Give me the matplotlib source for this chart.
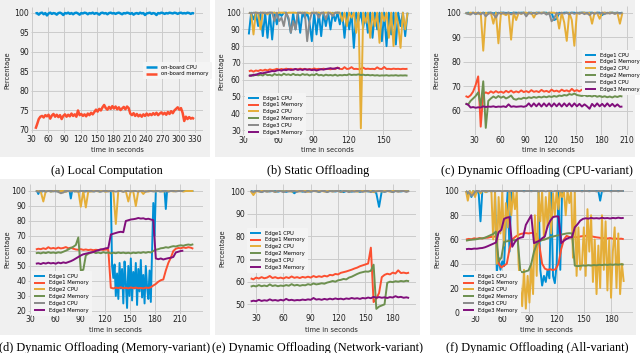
import numpy as np
import matplotlib.pyplot as plt
from matplotlib.patches import Rectangle

plt.style.use('fivethirtyeight')
plt.rcParams['font.family'] = ['DejaVu Sans']

COLORS = ['#008fd5', '#fc4f30', '#e5ae38', '#6d904f', '#8b8b8b', '#810f7c']
EDGE_LABELS = ['Edge1 CPU', 'Edge1 Memory', 'Edge2 CPU', 'Edge2 Memory', 'Edge3 CPU', 'Edge3 Memory']

# ---------------- (a) Local Computation : t = 37, 40, ... ----------------
a_t0, a_dt = 37, 3
a_cpu = [99.8, 99.9, 99.5, 99.9, 100.0, 99.6, 99.9, 99.3, 99.8, 100.0, 99.7, 99.9, 99.8, 99.5, 99.9, 100.0,
         99.8, 99.4, 99.9, 99.8, 100.0, 99.7, 99.9, 99.6, 99.9, 100.0, 99.8, 99.5, 99.9, 99.8, 100.0, 99.9,
         99.6, 99.9, 99.8, 100.0, 99.7, 99.9, 99.8, 99.5, 99.9, 100.0, 99.8, 99.9, 99.6, 99.9, 100.0, 99.8,
         99.9, 99.7, 99.9, 100.0, 99.8, 99.6, 99.9, 99.8, 100.0, 99.9, 99.7, 99.9, 99.5, 99.8, 99.9, 99.7,
         100.0, 99.8, 99.9, 99.4, 99.8, 99.9, 100.0, 99.7, 99.9, 99.8, 99.4, 99.9, 99.8, 100.0, 99.9, 99.7,
         99.9, 99.8, 100.0, 99.9, 99.8, 100.0, 99.9, 99.7, 99.9, 100.0, 99.8, 99.9, 99.8, 100.0, 99.9, 99.7,
         99.9, 99.8]
a_mem = [70.3, 71.5, 72.8, 73.4, 73.6, 73.2, 73.8, 73.5, 73.9, 72.9, 73.7, 74.1, 73.4, 73.9, 73.3, 73.8,
         72.8, 73.6, 74.0, 73.4, 73.9, 73.5, 74.2, 73.6, 74.0, 73.4, 75.0, 73.8, 74.1, 73.6, 74.0, 73.5,
         74.2, 73.8, 74.4, 74.0, 74.6, 75.2, 74.7, 75.4, 75.0, 75.8, 76.4, 75.6, 75.2, 75.9, 75.4, 76.1,
         75.5, 76.0, 75.3, 75.8, 75.1, 75.5, 75.9, 75.3, 76.0, 75.6, 74.2, 73.8, 74.3, 73.6, 74.1, 73.5,
         73.9, 73.4, 74.0, 73.6, 74.2, 73.7, 74.1, 73.8, 74.3, 73.9, 74.4, 73.8, 74.2, 74.5, 74.0, 74.4,
         73.9, 74.6, 74.1, 74.8, 74.3, 75.0, 75.4, 75.8, 75.2, 75.6, 74.4, 72.3, 73.4, 72.8, 73.3, 72.9,
         73.1, 72.8]

# ---------------- (b) Static Offloading : t = 35, 37, ... ----------------
b_t0, b_dt = 35, 2
b_e1_cpu = [87, 100, 96, 100, 92, 100, 86, 100, 85, 100, 84, 100, 93, 100, 98, 100, 100, 96, 88, 100,
            90, 100, 88, 100, 97, 100, 94, 83, 100, 87, 100, 86, 100, 92, 100, 90, 100, 95, 100, 93,
            100, 85, 100, 90, 100, 79, 100, 95, 100, 91, 100, 88, 100, 85, 100, 90, 100, 83, 100, 80,
            100, 87, 100, 81, 100, 92, 100, 86, 100]
b_e1_mem = [65.0, 65.5, 64.8, 65.5, 65.2, 65.8, 65.4, 66.0, 65.5, 66.2, 65.8, 66.0, 66.5, 66.0, 66.4, 66.0,
            66.6, 66.2, 66.5, 66.0, 66.4, 66.1, 66.6, 66.2, 66.5, 66.0, 66.4, 66.2, 66.7, 66.3, 66.5, 66.2,
            66.6, 66.3, 66.5, 66.2, 66.6, 66.3, 67.3, 66.5, 66.3, 67.5, 66.4, 66.6, 67.5, 66.4, 66.5, 66.3,
            66.5, 67.2, 66.4, 66.6, 66.4, 66.5, 66.3, 67.4, 66.5, 66.4, 67.6, 66.4, 66.5, 66.3, 66.6, 66.4,
            66.5, 66.3, 66.5, 66.4, 66.5]
b_e2_cpu = [100, 99.5, 87, 100, 100, 90, 100, 100, 99, 100, 100, 100, 99.5, 100, 100, 100, 99.5, 100, 100,
            100, 100, 99.6, 100, 100, 100, 100, 99.5, 100, 100, 100, 100, 99.6, 100, 100, 100, 100, 99.5,
            100, 100, 100, 95, 100, 92, 100, 97, 100, 88, 100, 31, 100, 94, 100, 85, 100, 92, 100, 82,
            100, 95, 100, 85, 100, 80, 100, 93, 79, 100, 90, 100]
b_e2_mem = [62.3, 62.8, 62.4, 63.2, 62.6, 63.0, 62.5, 63.5, 62.7, 62.9, 62.4, 63.4, 62.8, 63.1, 62.6, 63.6,
            62.9, 63.2, 62.7, 63.5, 62.8, 63.0, 62.6, 63.4, 62.9, 63.2, 62.5, 63.1, 62.7, 63.5, 62.6, 62.9,
            62.4, 63.0, 62.6, 62.8, 62.5, 63.0, 62.4, 62.8, 62.6, 62.9, 62.7, 63.3, 62.8, 63.0, 62.9, 63.2,
            62.8, 63.0, 62.7, 62.9, 62.6, 62.8, 62.5, 62.7, 62.4, 62.6, 62.5, 62.7, 62.4, 62.6, 62.5, 62.7,
            62.4, 62.6, 62.5, 62.6, 62.4]
b_e3_cpu = [100, 99.5, 100, 100, 99.6, 100, 100, 99.5, 100, 100, 100, 95, 100, 95, 97, 92, 100, 97, 88, 95,
            90, 100, 100, 99.5, 100, 83, 95, 100, 99.5, 100, 97, 100, 100, 96, 100, 99.5, 98, 100, 100, 100]
b_e3_mem = [62.5, 62.3, 63.0, 62.8, 63.5, 64.0, 63.8, 64.3, 64.5, 64.8, 65.2, 65.0, 65.5, 65.8, 65.4, 66.0,
            65.7, 66.2, 65.8, 66.0, 66.4, 65.9, 66.2, 65.8, 66.3, 66.0, 66.1, 65.7, 66.0, 65.5, 65.9, 66.3,
            66.0, 66.4, 66.6, 66.9, 66.5, 66.8, 67.0, 66.7]

# ---------------- (c) Dynamic Offloading (CPU-variant) : t = 19, 22, ... ----------------
c_t0, c_dt = 19, 3
c_e1_cpu = [99.6, 100, 99.8, 100, 99.5, 100, 99.7, 100, 99.8, 100, 100, 99.7, 100, 99.8, 100, 100, 99.9,
            100, 99.8, 100, 100, 99.9, 100, 100, 99.7, 100, 100, 99.8, 100, 100, 99.9, 100, 100, 99.6,
            100, 97.0, 97.5, 100, 99.8, 100, 100, 99.9, 100, 100, 99.8, 100, 100, 100, 99.9, 100, 100,
            99.8, 100, 100, 99.0, 100, 99.8, 100, 100, 99.9, 100, 99.8, 100]
c_e1_mem = [66.0, 65.5, 66.3, 67.8, 70.5, 74.0, 53.5, 66.8, 67.5, 67.0, 67.9, 67.3, 68.0, 67.4, 67.8, 67.3,
            68.1, 67.5, 68.2, 67.4, 67.9, 67.5, 68.3, 67.6, 68.0, 67.5, 68.4, 67.7, 68.0, 67.6, 68.5, 67.8,
            68.1, 67.6, 68.6, 67.9, 68.2, 67.7, 68.6, 68.0, 68.3, 67.8, 68.9, 68.0, 68.4, 67.9, 68.6, 68.0,
            68.3, 67.8, 68.7, 68.0, 68.2, 67.9, 68.6, 68.0, 68.3, 67.9, 68.5, 68.0, 68.2, 68.0, 68.1]
c_e2_cpu = [100, 99.5, 100, 99.8, 100, 99.5, 100, 84.5, 100, 99.5, 100, 95.5, 100, 87.5, 100, 99.5, 99.0,
            100, 89.0, 100, 97.0, 100, 99.5, 100, 100, 99.6, 100, 98.0, 100, 99.7, 100, 100, 99.5, 100,
            100, 100, 99.5, 93.5, 100, 96.0, 88.5, 100, 97.0, 86.5, 100, 99.6, 100, 100, 99.5, 100, 95.5,
            100, 99.8, 97.5, 100, 100, 99.7, 100, 100, 99.6, 100, 95.5, 100]
c_e2_mem = [63.0, 62.5, 64.0, 65.0, 66.0, 67.5, 62.0, 72.0, 53.0, 64.0, 65.0, 65.8, 65.2, 66.0, 65.3, 65.8,
            65.0, 65.5, 66.2, 64.8, 64.5, 65.0, 64.8, 65.3, 65.0, 65.5, 65.2, 65.6, 65.3, 65.7, 65.4, 65.8,
            65.5, 65.9, 65.6, 66.0, 65.7, 66.2, 66.0, 66.4, 66.2, 66.8, 66.5, 67.0, 66.4, 66.2, 66.0, 66.4,
            65.9, 66.1, 65.8, 66.2, 65.7, 66.0, 65.6, 65.9, 65.5, 65.8, 65.4, 65.9, 65.6, 66.0, 65.8]
c_e3_cpu = [100, 99.5, 99.2, 100, 99.4, 100, 99.3, 100, 98.5, 99.6, 100, 99.4, 98.0, 100, 99.5, 100, 99.6,
            100, 99.3, 100, 99.5, 100, 99.6, 100, 98.5, 100, 99.5, 100, 99.4, 100, 99.6, 100, 99.2, 100,
            96.5, 97.5, 100, 99.4, 100, 99.6, 100, 99.3, 100, 99.5, 100, 99.6, 100, 99.4, 100, 99.0, 100,
            99.5, 100, 99.6, 100, 99.4, 100, 99.6, 100, 99.5, 100, 99.6, 100]
c_e3_mem = [62.8, 62.5, 61.3, 61.5, 61.2, 61.4, 61.3, 61.8, 61.5, 61.7, 61.6, 61.8, 61.5, 61.7, 61.6, 61.8,
            61.5, 62.6, 61.6, 61.8, 61.6, 61.7, 61.8, 61.6, 61.9, 63.0, 61.7, 63.0, 61.8, 63.0, 61.7, 63.0,
            61.8, 63.0, 61.7, 63.0, 61.8, 63.0, 61.7, 63.0, 61.8, 63.0, 61.7, 63.0, 61.8, 62.8, 61.7, 62.6,
            61.8, 60.8, 62.8, 61.7, 63.0, 61.8, 62.8, 61.7, 63.0, 61.8, 62.8, 61.7, 62.6, 61.6, 61.7]

# ---------------- (d) Dynamic Offloading (Memory-variant) : t = 37, 40, ... ----------------
d_t0, d_dt = 37, 3
d_fine_dt = 1.5
d_e1_cpu = [100, 100, 98, 100, 100, 99.6, 100, 100, 99.7, 100, 100, 100, 99.6, 100, 100, 100, 99.8, 100,
            100, 100, 99.7, 100, 100, 100, 99.6, 100, 100, 100, 95, 100, 100, 99.7, 100, 100, 100, 99.8,
            100, 100, 100, 99.6, 100, 100, 100, 99.7, 100, 100, 100, 99.8, 100, 100, 100, 99.6, 100, 100,
            100, 99.8, 100, 100, 100, 100, 100, 50, 42, 51, 30, 45, 28, 52, 35, 48, 25, 53, 38, 22, 50, 30,
            55, 27, 46, 35, 52, 24, 48, 33, 54, 29, 44, 25, 50, 36, 28, 47, 26, 60, 92, 70, 100, 100, 100,
            99.8, 100, 100, 100, 100, 88, 100, 100, 100, 100, 100, 100, 100, 100, 100, 100, 100, 100, 100,
            100, 100, 100, 100, 100, 100, 100, 100, 100]
d_e1_mem = [61.0, 61.5, 61.2, 61.8, 61.3, 62.5, 61.6, 62.0, 61.5, 62.3, 61.7, 62.0, 62.6, 61.8, 62.2, 61.5,
            61.0, 60.8, 61.2, 60.7, 61.0, 60.6, 60.9, 60.5, 60.8, 60.6, 61.0, 60.7, 61.0, 60.8, 35.5, 35.0,
            35.6, 35.2, 35.8, 35.1, 35.5, 35.0, 35.7, 35.2, 35.6, 35.1, 35.4, 35.0, 35.6, 35.3, 35.8, 37.0,
            38.0, 39.5, 40.5, 41.0, 47.0, 52.0, 55.5, 60.0, 61.5, 62.0, 61.8, 62.4, 62.0, 62.5, 62.2, 61.5]
d_e2_cpu = [100, 100, 99.5, 93, 100, 100, 99.6, 100, 100, 99.7, 100, 100, 99.5, 100, 100, 100, 99.6, 100,
            89.5, 100, 89, 100, 99.6, 100, 100, 99.7, 100, 100, 99.5, 100, 100, 99.6, 78, 100, 100, 99.5,
            100, 93, 100, 99.6, 90, 100, 100, 98, 100, 99.6, 100, 100, 99.7, 100, 100, 99.6, 100, 100,
            100, 99.7, 100, 100, 100, 99.6, 100, 100, 100, 100]
d_e2_mem = [58.5, 58.8, 58.4, 59.0, 58.6, 59.2, 58.7, 59.0, 58.6, 59.1, 58.8, 59.5, 60.2, 61.0, 62.0, 62.8,
            64.0, 69.0, 47.0, 47.5, 57.0, 58.2, 58.8, 59.3, 58.6, 59.0, 58.5, 59.2, 58.7, 59.0, 58.4, 58.8,
            58.5, 59.0, 58.6, 58.9, 58.5, 58.8, 58.4, 58.9, 58.6, 59.0, 58.7, 59.2, 58.8, 59.3, 59.0, 60.0,
            60.8, 61.2, 61.8, 62.0, 62.5, 62.2, 62.8, 63.2, 63.0, 63.5, 63.8, 63.5, 64.0, 64.3, 64.0, 64.5]
d_e3_cpu = [100, 99.5, 100, 100, 99.6, 100, 100, 99.7, 100, 99.4, 98.5, 99.0, 100, 100, 99.6, 100, 100,
            99.5, 100, 100, 99.7, 100, 100, 99.6, 100, 100, 99.5, 100, 100, 99.7, 100, 100, 99.6, 100,
            100, 99.5, 100, 100, 99.7, 100, 100, 99.6, 100, 100, 99.5, 100, 100, 99.7, 100, 100, 99.6,
            100, 100, 99.5, 100, 100, 99.7, 100, 100, 100]
d_e3_mem = [51.5, 51.8, 51.3, 52.0, 51.6, 52.2, 51.7, 52.0, 51.5, 52.3, 51.8, 52.4, 52.0, 52.6, 53.2, 54.0,
            55.0, 56.0, 57.0, 57.8, 58.2, 58.6, 59.0, 59.3, 60.0, 60.5, 61.0, 61.3, 61.8, 62.0, 71.0, 71.5,
            72.0, 72.5, 72.8, 72.5, 80.0, 80.5, 81.0, 81.2, 81.5, 82.0, 81.6, 81.8, 81.2, 81.5, 81.0, 80.5,
            55.0, 54.5, 55.0, 54.3, 54.8, 55.2, 55.5, 56.0, 59.0, 59.5, 60.0, 60.2]

# ---------------- (e) Dynamic Offloading (Network-variant) : t = 24, 27, ... ----------------
e_t0, e_dt = 24, 3
e_e1_cpu = [100, 99.7, 100, 100, 99.6, 100, 100, 99.8, 100, 100, 99.7, 100, 100, 99.6, 100, 100, 99.0,
            100, 100, 99.7, 100, 100, 99.8, 100, 100, 99.6, 100, 100, 99.7, 100, 100, 99.8, 100, 100, 99.5,
            100, 100, 99.7, 100, 100, 99.6, 100, 100, 99.8, 100, 100, 99.0, 93.0, 100, 99.7, 100, 100,
            99.6, 100, 100, 99.8, 100, 100, 100]
e_e1_mem = [61.5, 61.0, 61.8, 61.4, 62.0, 61.5, 61.8, 62.5, 61.6, 62.0, 61.5, 61.8, 61.4, 62.0, 61.6, 62.3,
            61.7, 62.0, 61.6, 62.1, 61.8, 62.2, 61.8, 62.5, 62.0, 62.4, 62.1, 62.6, 62.3, 63.0, 62.8, 63.4,
            63.2, 63.9, 64.2, 64.5, 64.9, 65.3, 65.8, 66.2, 66.8, 67.2, 67.6, 68.0, 75.0, 51.0, 52.5, 55.0,
            62.0, 63.0, 63.5, 63.2, 64.0, 63.6, 65.0, 63.8, 64.0, 63.7, 64.0]
e_e2_cpu = [100, 98.2, 100, 99.7, 100, 100, 99.8, 100, 100, 99.6, 100, 100, 99.8, 100, 100, 99.7, 100, 100,
            99.8, 100, 100, 99.6, 100, 100, 99.8, 100, 100, 99.7, 100, 100, 99.8, 100, 100, 99.6, 100, 100,
            99.8, 100, 100, 99.7, 100, 100, 99.8, 100, 100, 99.5, 100, 100, 99.8, 100, 100, 99.7, 100, 100,
            99.8, 100, 100, 99.9, 100]
e_e2_mem = [57.8, 58.2, 57.9, 58.5, 58.0, 58.3, 58.0, 58.8, 58.1, 58.4, 58.0, 58.3, 58.1, 58.5, 58.2, 58.9,
            58.3, 58.6, 58.2, 58.5, 58.4, 58.9, 58.6, 59.2, 58.8, 59.0, 59.3, 59.1, 59.6, 59.9, 60.3, 60.0,
            60.6, 60.8, 61.2, 61.0, 61.8, 62.2, 62.8, 63.4, 63.9, 64.2, 64.5, 64.4, 64.8, 67.5, 48.0, 49.0,
            49.5, 50.0, 59.5, 60.0, 59.8, 60.2, 60.0, 60.3, 60.1, 60.4, 60.2]
e_e3_cpu = [100, 99.6, 100, 100, 99.5, 100, 99.7, 100, 100, 99.6, 100, 100, 99.5, 100, 99.8, 100, 100,
            99.6, 100, 100, 99.5, 100, 99.7, 100, 100, 99.6, 100, 100, 99.5, 100, 99.8, 100, 100, 99.6,
            100, 100, 99.5, 100, 99.7, 100, 100, 99.6, 100, 100, 99.5, 100, 99.8, 100, 100, 99.6, 100,
            100, 99.5, 100, 99.7, 100, 100, 99.6, 100]
e_e3_mem = [51.3, 51.6, 51.4, 52.0, 51.5, 51.8, 51.6, 52.2, 51.7, 51.9, 51.6, 52.0, 51.7, 52.4, 51.8, 52.0,
            51.7, 51.9, 51.8, 52.1, 51.9, 52.2, 52.0, 52.8, 52.1, 52.3, 52.0, 52.4, 52.1, 52.5, 52.2, 52.6,
            52.3, 52.5, 52.2, 52.6, 52.4, 52.8, 52.5, 52.7, 52.4, 52.8, 52.6, 53.0, 52.7, 53.3, 52.9, 53.2,
            52.9, 53.1, 52.8, 53.2, 53.0, 53.6, 53.1, 53.3, 52.9, 53.1, 52.8]

# ---------------- (f) Dynamic Offloading (All-variant) ----------------
f_t0 = 20
f_cpu_dt, f_mem_dt = 2, 3
f_e1_cpu = [100, 97, 100, 95, 100, 99, 100, 98, 75, 100, 100, 99, 100, 100, 99.5, 100, 100, 33, 45, 35,
            42, 38, 75, 100, 50, 100, 100, 100, 100, 100, 100, 100, 100, 100, 100, 100, 100, 100, 100,
            100, 100, 35, 22, 30, 25, 35, 28, 100, 30, 24, 40, 100, 35, 100, 100, 100, 100, 100, 100,
            100, 100, 100, 100, 100, 100, 100, 100, 100, 100, 100, 100, 100, 100, 100, 92, 100, 100, 100,
            100, 100, 100, 100, 100, 100, 100, 100, 100, 100]
f_e1_mem = [60.0, 60.5, 60.2, 61.0, 60.6, 61.2, 60.8, 61.4, 61.5, 62.0, 62.3, 62.5, 40.0, 37.0, 38.5, 40.0,
            52.0, 60.0, 62.0, 63.5, 64.5, 65.0, 65.3, 65.0, 65.4, 65.2, 64.5, 55.0, 40.0, 36.0, 35.0, 35.5,
            34.8, 35.6, 40.0, 52.0, 60.0, 63.0, 62.0, 61.5, 62.0, 61.8, 62.5, 62.8, 63.0, 62.4, 62.7, 62.2,
            61.8, 61.5, 61.0, 61.3, 60.8, 61.2, 60.6, 60.9, 60.4, 60.7, 60.3]
f_e2_cpu = [100, 92, 100, 97, 100, 95, 100, 100, 98, 100, 100, 99, 100, 100, 100, 60, 100, 40, 95, 65,
            100, 55, 90, 70, 100, 80, 100, 85, 100, 40, 20, 5, 35, 3, 30, 8, 40, 15, 80, 30, 100, 75, 100,
            60, 95, 70, 100, 65, 98, 80, 100, 85, 100, 95, 100, 80, 100, 90, 100, 45, 100, 30, 70, 35, 40,
            70, 30, 85, 50, 80, 25, 60, 15, 55, 20, 80, 35, 75, 18, 60, 12, 50, 70, 20, 65, 15, 40, 25]
f_e2_mem = [59.0, 59.5, 59.8, 60.0, 60.3, 60.8, 61.0, 61.5, 62.5, 63.5, 64.5, 66.5, 42.0, 45.0, 58.0, 58.5,
            59.0, 59.2, 59.5, 60.0, 33.5, 33.0, 33.8, 34.5, 40.0, 50.0, 56.0, 58.5, 59.5, 60.0, 61.0, 62.0,
            62.5, 63.0, 63.5, 64.0, 64.5, 65.0, 65.2, 65.0, 38.5, 38.0, 38.3, 38.6, 38.4, 38.8, 38.5, 39.0,
            38.7, 39.2, 38.9, 39.3, 39.0, 39.4, 39.1, 39.5, 39.2, 39.6, 39.3]
f_e3_cpu = [100, 99, 98, 96, 97, 99.5, 100, 100, 99.6, 100, 100, 100, 99.7, 100, 100, 100, 99.6, 100, 100,
            100, 99.7, 100, 100, 100, 99.6, 100, 100, 100, 99.7, 100, 100, 100, 99.6, 100, 100, 100, 99.7,
            100, 100, 100, 99.6, 100, 100, 100, 99.7, 100, 100, 100, 99.6, 100, 100, 100, 99.7, 100, 100,
            100, 99.6, 100, 100, 100, 99.7, 100, 100, 100, 99.6, 100, 100, 100, 99.7, 100, 100, 100, 99.6,
            100, 100, 100, 99.7, 100, 100, 100, 99.6, 100, 100, 100, 99.7, 100, 100, 100]
f_e3_mem = [52.0, 52.3, 52.1, 52.5, 52.4, 52.8, 53.0, 53.6, 54.5, 55.5, 56.5, 57.5, 66.0, 68.0, 77.0, 78.0,
            78.5, 54.0, 58.0, 60.5, 61.5, 62.0, 72.0, 76.0, 80.0, 57.0, 58.0, 59.0, 61.0, 62.5, 71.0, 75.5,
            78.5, 79.0, 79.0, 57.0, 59.0, 60.5, 61.5, 62.0, 70.0, 72.5, 75.5, 77.0, 77.5, 77.2, 77.8, 77.4,
            77.6, 77.3, 77.9, 77.5, 77.7, 77.3, 77.8, 77.5, 78.0, 77.6, 77.8]

W, H = 640, 353
fig = plt.figure(figsize=(6.4, 3.53), dpi=100, facecolor='white')


def fx(x):
    return x / W


def fy(y):
    return 1 - y / H


def times(t0, dt, vals):
    return t0 + dt * np.arange(len(vals))


# grey panel backgrounds (the six embedded figures)
boxes = [(0, 210, 0, 157), (215, 420, 0, 157), (430, 635, 0, 157),
         (0, 210, 179, 335), (215, 420, 179, 335), (430, 636, 179, 335)]
for x0, x1, y0, y1 in boxes:
    fig.patches.append(Rectangle((fx(x0), fy(y1)), fx(x1 - x0), (y1 - y0) / H,
                                 transform=fig.transFigure, facecolor='#f0f0f0',
                                 edgecolor='none', zorder=-10))

panels = [
    dict(box=(30.6, 203.3, 6.7, 133.2), xlim=(28, 345), ylim=(69.18, 101.53),
         xt=np.arange(30, 331, 30), yt=np.arange(70, 101, 5), ylab_x=10, xlab_y=147,
         leg=(143, 62),
         series=[(a_t0, a_dt, a_cpu, 'on-board CPU'), (a_t0, a_dt, a_mem, 'on-board memory')],
         lw=1.8, caption='(a) Local Computation', cap=(107, 171)),
    dict(box=(242.4, 412.2, 6.8, 134.8), xlim=(29.5, 175), ylim=(27.14, 103.5),
         xt=np.arange(30, 151, 30), yt=np.arange(30, 101, 10), ylab_x=224, xlab_y=147,
         leg=(245, 93),
         series=[(b_t0, b_dt, s, l) for s, l in zip(
             [b_e1_cpu, b_e1_mem, b_e2_cpu, b_e2_mem, b_e3_cpu, b_e3_mem], EDGE_LABELS)],
         lw=1.4, caption='(b) Static Offloading', cap=(318, 171)),
    dict(box=(463, 633.4, 6.3, 134.5), xlim=(16, 218), ylim=(50.3, 102.6),
         xt=np.arange(30, 211, 30), yt=np.arange(60, 101, 10), ylab_x=439, xlab_y=147,
         leg=(582, 50),
         series=[(c_t0, c_dt, s, l) for s, l in zip(
             [c_e1_cpu, c_e1_mem, c_e2_cpu, c_e2_mem, c_e3_cpu, c_e3_mem], EDGE_LABELS)],
         lw=1.4, caption='(c) Dynamic Offloading (CPU-variant)', cap=(537, 171)),
    dict(box=(27.9, 202.9, 184.4, 313.5), xlim=(27.5, 237.5), ylim=(18.3, 104.4),
         xt=np.arange(30, 211, 30), yt=np.arange(20, 101, 10), ylab_x=10, xlab_y=327,
         leg=(31, 271),
         series=[(d_t0, d_fine_dt, d_e1_cpu, EDGE_LABELS[0])] + [(d_t0, d_dt, s, l) for s, l in zip(
             [d_e1_mem, d_e2_cpu, d_e2_mem, d_e3_cpu, d_e3_mem], EDGE_LABELS[1:])],
         lw=1.4, caption='(d) Dynamic Offloading (Memory-variant)', cap=(105, 348)),
    dict(box=(247, 416.4, 184.2, 312.5), xlim=(20, 206), ylim=(46.4, 103),
         xt=np.arange(30, 181, 30), yt=np.arange(50, 101, 10), ylab_x=225, xlab_y=327,
         leg=(247, 228),
         series=[(e_t0, e_dt, s, l) for s, l in zip(
             [e_e1_cpu, e_e1_mem, e_e2_cpu, e_e2_mem, e_e3_cpu, e_e3_mem], EDGE_LABELS)],
         lw=1.4, caption='(e) Dynamic Offloading (Network-variant)', cap=(318, 348)),
    dict(box=(461, 632.8, 184.3, 313.5), xlim=(14.5, 204), ylim=(-1.0, 105.5),
         xt=np.arange(30, 181, 30), yt=np.arange(0, 101, 20), ylab_x=440, xlab_y=327,
         leg=(460, 271),
         series=[(f_t0, dt, s, l) for dt, s, l in zip(
             [f_cpu_dt, f_mem_dt] * 3,
             [f_e1_cpu, f_e1_mem, f_e2_cpu, f_e2_mem, f_e3_cpu, f_e3_mem], EDGE_LABELS)],
         lw=1.4, caption='(f) Dynamic Offloading (All-variant)', cap=(537, 348)),
]

for p in panels:
    x0, x1, y0, y1 = p['box']
    ax = fig.add_axes([fx(x0), fy(y1), fx(x1 - x0), (y1 - y0) / H])
    ax.set_facecolor('#f0f0f0')
    for i, (t0, dt, vals, lab) in enumerate(p['series']):
        ax.plot(times(t0, dt, vals), vals, color=COLORS[i], lw=p['lw'], label=lab)
    ax.set_xlim(*p['xlim'])
    ax.set_ylim(*p['ylim'])
    ax.set_xticks(p['xt'])
    ax.set_yticks(p['yt'])
    ax.tick_params(labelsize=5.6, pad=1.2, length=0, colors='#222222')
    ax.grid(True, color='#cbcbcb', lw=0.7)
    for s in ax.spines.values():
        s.set_visible(False)
    ax.set_xlabel('time in seconds', fontsize=4.8, color='#222222')
    ax.set_ylabel('Percentage', fontsize=4.8, color='#222222')
    ax.xaxis.set_label_coords(0.5, -(p['xlab_y'] - y1) / (y1 - y0))
    ax.yaxis.set_label_coords((p['ylab_x'] - x0) / (x1 - x0), 0.5)
    # legend anchored in axes fractions computed from its pixel corner
    lx, ly = p['leg']
    ax.legend(loc='upper left', bbox_to_anchor=((lx - x0) / (x1 - x0), (y1 - ly) / (y1 - y0)),
              fontsize=3.8, frameon=True, facecolor='#f4f4f4', edgecolor='none', framealpha=1,
              handlelength=2.2, handletextpad=0.8, labelspacing=0.35, borderpad=0.5,
              borderaxespad=0)
    fig.text(fx(p['cap'][0]), fy(p['cap'][1]), p['caption'], ha='center', va='center',
             family='Liberation Serif', fontsize=8.8, color='black')

fig.savefig('out.png', dpi=100, facecolor='white')
